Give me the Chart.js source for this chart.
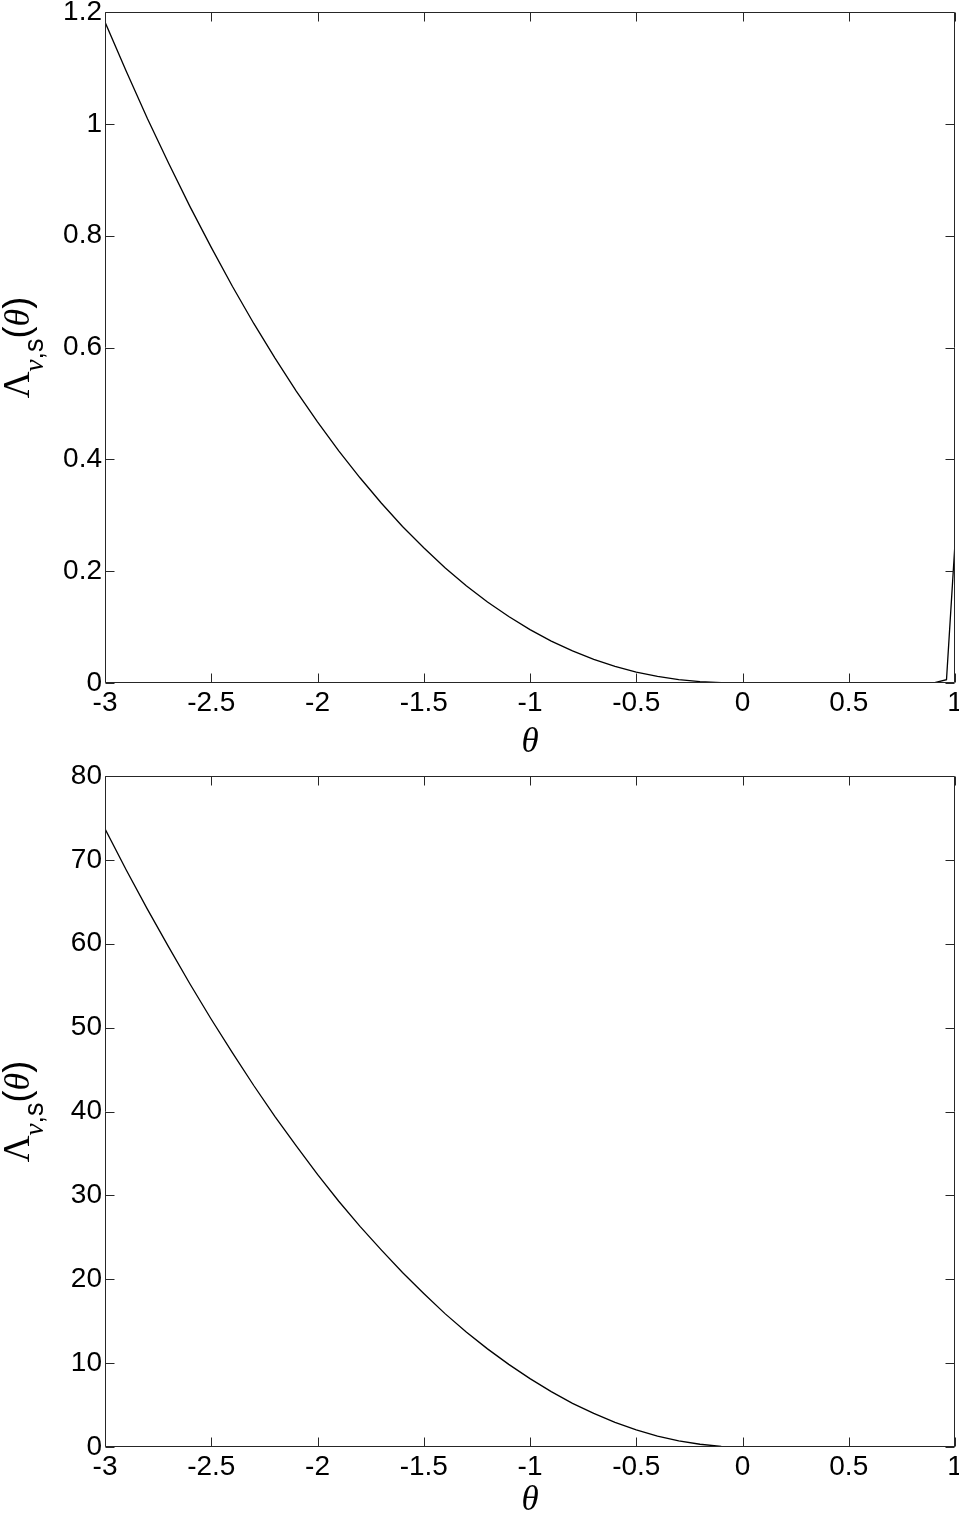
<!DOCTYPE html>
<html><head><meta charset="utf-8">
<script src="https://cdn.jsdelivr.net/npm/chart.js@4"></script>
<style>
html,body{margin:0;padding:0;background:#fff;width:959px;height:1518px;overflow:hidden}
.wrap{position:absolute;left:0;width:959px}
canvas{display:block}
</style></head><body>
<div class="wrap" style="top:0;height:762px"><canvas id="c1" width="959" height="762"></canvas></div>
<div class="wrap" style="top:762px;height:756px"><canvas id="c2" width="959" height="756"></canvas></div>
<script>
// ---- data ----
const theta = [-3,-2.9,-2.8,-2.7,-2.6,-2.5,-2.4,-2.3,-2.2,-2.1,-2,-1.9,-1.8,-1.7,-1.6,-1.5,-1.4,-1.3,-1.2,-1.1,
  -1,-0.9,-0.8,-0.7,-0.6,-0.5,-0.4,-0.3,-0.2,-0.1,0,0.1,0.2,0.3,0.4,0.5,0.6,0.7,0.8,0.9,0.96,1];
const lambdaTop = [1.182,1.094,1.009,0.929,0.852,0.779,0.709,0.643,0.581,0.522,0.467,0.415,0.367,0.322,0.280,0.242,0.206,0.174,0.145,0.119,
  0.0955,0.075,0.0573,0.0422,0.0296,0.0195,0.0117,0.0061,0.0024,0.0005,0,0,0,0,0,0,0,0,0,0,0.006,0.25];
const lambdaBottom = [73.7,68.8,64.1,59.6,55.2,51.0,47.0,43.1,39.4,35.9,32.5,29.3,26.3,23.5,20.8,18.3,15.9,13.7,11.7,9.85,
  8.15,6.6,5.2,4.0,2.93,2.04,1.3,0.73,0.33,0.08,0,0,0,0,0,0,0,0,0,0,0,0];
const xTicks = [-3,-2.5,-2,-1.5,-1,-0.5,0,0.5,1];
const yTicksTop = [0,0.2,0.4,0.6,0.8,1,1.2];
const yTicksBottom = [0,10,20,30,40,50,60,70,80];
const xTitle = 'θ';
const yTitleParts = [
  {t:'Λ', font:'37px "Liberation Serif"', sub:false},
  {t:'ν', font:'italic 27px "Liberation Serif"', sub:true},
  {t:',s', font:'27px "Liberation Sans"', sub:true},
  {t:'(', font:'36px "Liberation Sans"', sub:false},
  {t:'θ', font:'italic 36px "Liberation Serif"', sub:false},
  {t:')', font:'36px "Liberation Sans"', sub:false}
];

const framePlugin = {
  id:'frame',
  afterDatasetsDraw(chart){
    const {ctx, chartArea:a, scales:{x,y}} = chart;
    ctx.save();
    ctx.strokeStyle = '#262626'; ctx.lineWidth = 1;
    const L = Math.round(a.left)+0.5, R = Math.round(a.right)-0.5, T = Math.round(a.top)+0.5, B = Math.round(a.bottom)-0.5;
    ctx.beginPath(); ctx.rect(L,T,R-L,B-T); ctx.stroke();
    const tl = 9;
    ctx.beginPath();
    x.ticks.forEach(t=>{const px=Math.round(x.getPixelForValue(t.value))+0.5; ctx.moveTo(px,B); ctx.lineTo(px,B-tl); ctx.moveTo(px,T); ctx.lineTo(px,T+tl);});
    y.ticks.forEach(t=>{const py=Math.round(y.getPixelForValue(t.value))+0.5; ctx.moveTo(L,py); ctx.lineTo(L+tl,py); ctx.moveTo(R,py); ctx.lineTo(R-tl,py);});
    ctx.stroke();
    // y-axis title with subscript
    const cy = (a.top + a.bottom)/2, bx = 29, drop = 14;
    let widths = yTitleParts.map(p=>{ctx.font=p.font; return ctx.measureText(p.t).width;});
    const total = widths.reduce((s,w)=>s+w,0);
    ctx.translate(bx, cy); ctx.rotate(-Math.PI/2);
    ctx.fillStyle = '#000'; ctx.textBaseline = 'alphabetic'; ctx.textAlign = 'left';
    let xp = -total/2;
    yTitleParts.forEach((p,i)=>{ctx.font=p.font; ctx.fillText(p.t, xp, p.sub?drop:0); xp += widths[i];});
    ctx.restore();
  }
};

function makeChart(id, values, yTicks, yMax, padTop, xHeight, titlePadBottom){
  return new Chart(document.getElementById(id), {
    type:'line',
    data:{datasets:[{data: theta.map((t,i)=>({x:t, y:values[i]})), borderColor:'#000', borderWidth:1.3,
      pointRadius:0, tension:0, fill:false}]},
    options:{
      responsive:false, animation:false, devicePixelRatio:1,
      layout:{padding:{top:padTop, right:4, left:0, bottom:0}},
      plugins:{legend:{display:false}, tooltip:{enabled:false}},
      scales:{
        x:{type:'linear', min:-3, max:1,
          afterBuildTicks:s=>{s.ticks = xTicks.map(v=>({value:v}));},
          afterFit:s=>{s.height = xHeight; s.paddingLeft=0; s.paddingRight=0;},
          grid:{display:false, drawTicks:false}, border:{display:false},
          ticks:{color:'#000', padding:3, maxRotation:0, autoSkip:false, font:{family:'"Liberation Sans"', size:28}, callback:v=>String(v)},
          title:{display:true, text:xTitle, color:'#000', padding:{top:0,bottom:titlePadBottom},
            font:{family:'"Liberation Serif"', style:'italic', size:35, lineHeight:1}}
        },
        y:{type:'linear', min:0, max:yMax,
          afterBuildTicks:s=>{s.ticks = yTicks.map(v=>({value:v}));},
          afterFit:s=>{s.width = 105; s.paddingTop=0; s.paddingBottom=0;},
          grid:{display:false, drawTicks:false}, border:{display:false},
          ticks:{color:'#000', padding:3, autoSkip:false, font:{family:'"Liberation Sans"', size:28}, callback:v=>String(v)}
        }
      }
    },
    plugins:[framePlugin]
  });
}
makeChart('c1', lambdaTop, yTicksTop, 1.2, 12, 79, 2);
makeChart('c2', lambdaBottom, yTicksBottom, 80, 14, 71, 0);
</script>
</body></html>
